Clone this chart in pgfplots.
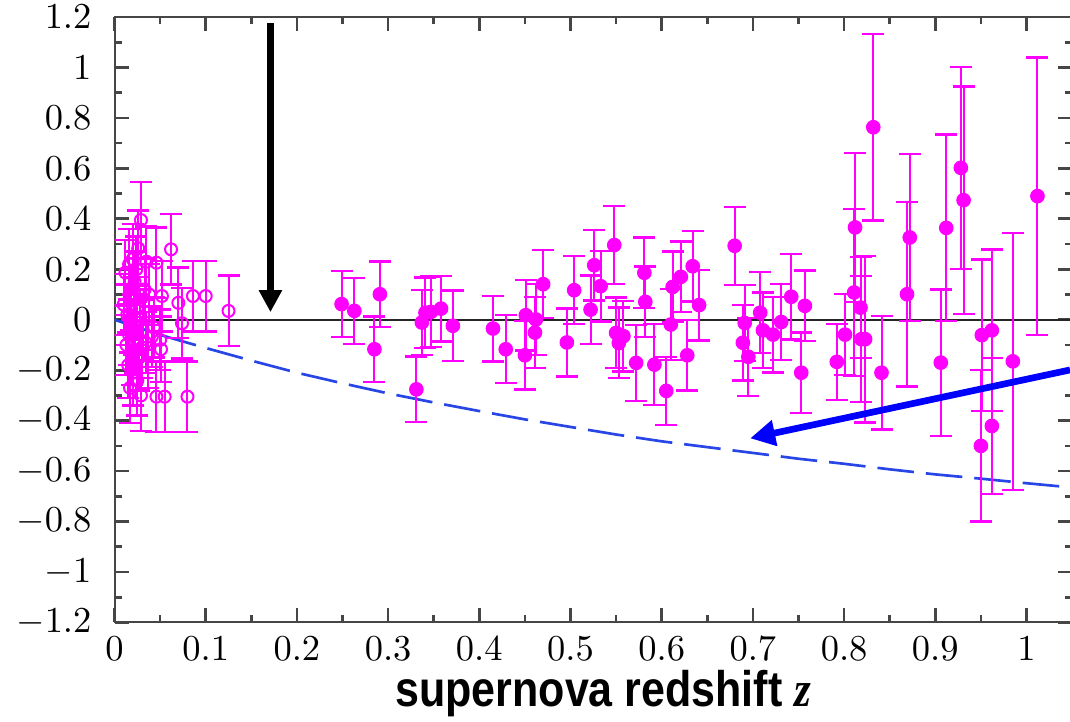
\documentclass[border=0pt]{standalone}
\usepackage{fontspec}
\usepackage{pgfplots}
\pgfplotsset{compat=1.18}
\usepackage{pgfplotstable}
\usetikzlibrary{arrows.meta}
\newfontfamily\arialfont{Liberation Sans}
\newfontfamily\timesfont{Liberation Serif}
\definecolor{mag}{RGB}{255,0,255}
\definecolor{dashblue}{RGB}{40,70,230}
\definecolor{tickgray}{RGB}{70,70,70}

\pgfplotstableread{
x y e
0.029 0.395 0.15
0.026 0.283 0.15
0.062 0.279 0.14
0.046 0.226 0.14
0.012 0.187 0.13
0.016 0.22 0.14
0.020 0.24 0.14
0.024 0.20 0.13
0.035 0.23 0.14
0.022 0.15 0.12
0.033 0.12 0.12
0.038 0.10 0.12
0.052 0.094 0.14
0.070 0.067 0.14
0.086 0.094 0.14
0.100 0.094 0.14
0.125 0.035 0.14
0.074 -0.014 0.14
0.010 0.06 0.12
0.014 0.02 0.12
0.018 0.08 0.12
0.021 -0.02 0.12
0.025 0.05 0.12
0.028 0.00 0.12
0.031 -0.04 0.12
0.041 -0.067 0.12
0.050 -0.08 0.12
0.051 -0.117 0.13
0.013 -0.10 0.12
0.016 -0.06 0.12
0.019 -0.13 0.13
0.023 -0.09 0.12
0.027 -0.15 0.13
0.030 -0.11 0.12
0.034 -0.09 0.12
0.037 -0.14 0.13
0.015 -0.18 0.13
0.020 -0.21 0.13
0.025 -0.24 0.14
0.029 -0.30 0.14
0.046 -0.305 0.14
0.055 -0.305 0.14
0.080 -0.305 0.14
0.017 -0.27 0.14
0.043 -0.03 0.12
}\lowz

\pgfplotstableread{
x y e
0.249 0.062 0.13
0.263 0.035 0.13
0.291 0.101 0.13
0.285 -0.117 0.13
0.331 -0.276 0.13
0.337 -0.011 0.13
0.341 0.028 0.14
0.347 0.031 0.14
0.358 0.044 0.13
0.371 -0.024 0.14
0.415 -0.035 0.13
0.429 -0.117 0.135
0.450 -0.141 0.135
0.451 0.018 0.14
0.462 0.001 0.14
0.461 -0.051 0.14
0.470 0.141 0.135
0.496 -0.090 0.135
0.504 0.117 0.135
0.522 0.040 0.135
0.526 0.216 0.14
0.533 0.133 0.14
0.548 0.296 0.155
0.550 -0.052 0.14
0.553 -0.092 0.14
0.558 -0.065 0.14
0.572 -0.171 0.15
0.581 0.186 0.14
0.582 0.071 0.14
0.592 -0.178 0.16
0.605 -0.282 0.135
0.610 -0.019 0.14
0.612 0.130 0.14
0.621 0.170 0.14
0.628 -0.141 0.14
0.634 0.212 0.14
0.641 0.058 0.14
0.680 0.293 0.155
0.691 -0.013 0.15
0.689 -0.091 0.15
0.695 -0.147 0.155
0.708 0.028 0.16
0.711 -0.042 0.15
0.722 -0.059 0.15
0.731 -0.009 0.15
0.742 0.091 0.17
0.753 -0.210 0.16
0.757 0.055 0.14
0.792 -0.167 0.15
0.801 -0.059 0.16
0.811 0.108 0.33
0.812 0.366 0.296
0.818 0.048 0.2
0.819 -0.077 0.25
0.823 -0.077 0.33
0.832 0.763 0.37
0.841 -0.210 0.225
0.869 0.101 0.365
0.872 0.326 0.33
0.906 -0.170 0.29
0.912 0.364 0.37
0.928 0.602 0.40
0.931 0.474 0.45
0.951 -0.061 0.30
0.950 -0.500 0.30
0.962 -0.042 0.32
0.962 -0.421 0.27
0.985 -0.165 0.51
1.012 0.490 0.55
}\highz

\begin{document}
\begin{tikzpicture}
\begin{axis}[
  scale only axis,
  width=287.28pt, height=181.65pt,
  xmin=0, xmax=1.05, ymin=-1.2, ymax=1.2,
  xtick={0,0.1,0.2,0.3,0.4,0.5,0.6,0.7,0.8,0.9,1},
  ytick={-1.2,-1,-0.8,-0.6,-0.4,-0.2,0,0.2,0.4,0.6,0.8,1,1.2},
  minor x tick num=1, minor y tick num=1,
  tick align=inside,
  major tick length=4.2pt, minor tick length=2.1pt,
  every tick/.style={tickgray, line width=0.8pt},
  axis line style={tickgray, line width=0.6pt},
  tick label style={font=\fontsize{11.3}{13}\selectfont},
  yticklabel style={xshift=-3.4pt},
  xticklabel style={yshift=-0.8pt},
]
\coordinate (bbsw) at (axis cs:-0.12555,-1.59433);
\coordinate (bbne) at (axis cs:1.04770,1.26734);
\coordinate (xl) at (axis cs:0.536,-1.5337);

\addplot[black!85, line width=0.6pt] coordinates {(0,0) (1.05,0)};

\addplot[dashblue, line width=0.8pt, dash pattern=on 11pt off 3.6pt] coordinates {
(0,0) (0.05,-0.06) (0.1,-0.112) (0.15,-0.162) (0.2,-0.21) (0.25,-0.252)
(0.3,-0.292) (0.35,-0.328) (0.4,-0.362) (0.45,-0.395) (0.5,-0.425)
(0.55,-0.455) (0.6,-0.482) (0.65,-0.505) (0.7,-0.528) (0.75,-0.551)
(0.8,-0.571) (0.85,-0.593) (0.9,-0.613) (0.95,-0.630) (1.0,-0.648) (1.05,-0.665)};

\addplot[only marks, mark=o, mark size=1.8pt, mag, mark options={line width=0.6pt},
  error bars/.cd, y dir=both, y explicit,
  error bar style={line width=0.6pt, mag},
  error mark options={rotate=90, mark size=3.3pt, line width=0.7pt, mag}]
  table[x=x, y=y, y error=e] {\lowz};

\addplot[only marks, mark=*, mark size=2pt, mag, mark options={fill=mag, draw=mag},
  error bars/.cd, y dir=both, y explicit,
  error bar style={line width=0.6pt, mag},
  error mark options={rotate=90, mark size=3.3pt, line width=0.7pt, mag}]
  table[x=x, y=y, y error=e] {\highz};

\addplot[black, line width=2.2pt, -{Triangle[width=6.6pt,length=6.6pt]}] coordinates {(0.171,1.176) (0.171,0.03)};
\addplot[blue, line width=2pt, -{Triangle[width=7.5pt,length=7.5pt]}] coordinates {(1.0477,-0.199) (0.697,-0.47)};
\end{axis}
\node[anchor=base, inner sep=0pt] at (xl)
  {\scalebox{0.86}[1]{\fontsize{15}{18}\selectfont\arialfont\bfseries supernova redshift \timesfont\itshape z}};
\pgfresetboundingbox
\useasboundingbox (bbsw) rectangle (bbne);
\end{tikzpicture}
\end{document}
